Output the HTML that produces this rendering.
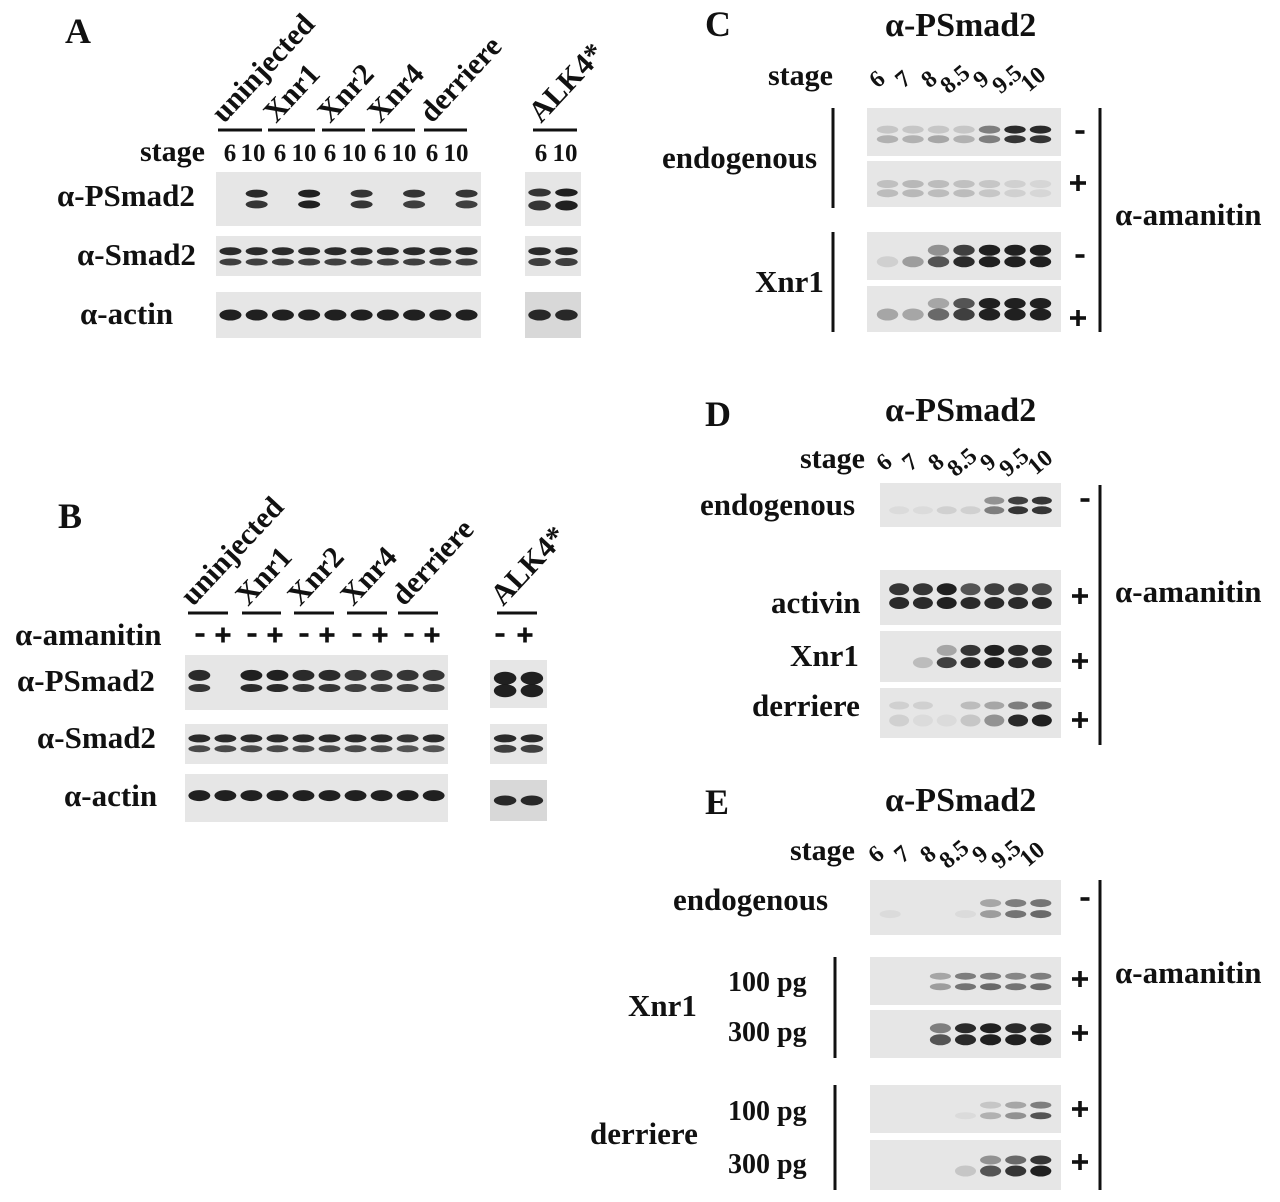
<!DOCTYPE html>
<html><head><meta charset="utf-8"><style>
html,body{margin:0;padding:0;background:#fff}
svg{display:block}
text{font-family:"Liberation Serif",serif;font-weight:bold;fill:#111}
</style></head><body>
<svg id="s" width="1280" height="1202" xmlns="http://www.w3.org/2000/svg"></svg>
<script>
const s=document.getElementById('s');const NS='http://www.w3.org/2000/svg';
function el(t,a,txt){const e=document.createElementNS(NS,t);for(const k in a)e.setAttribute(k,a[k]);if(txt!=null)e.textContent=txt;s.appendChild(e);return e;}
function T(x,y,t,sz,anc,rot){const a={x:x,y:y,'font-size':sz||31};if(anc)a['text-anchor']=anc;if(rot)a.transform='rotate('+rot+' '+x+' '+y+')';return el('text',a,t);}
function L(x1,y1,x2,y2,w){el('line',{x1:x1,y1:y1,x2:x2,y2:y2,stroke:'#111','stroke-width':w||3});}
function P(cx,cy,sz){sz=sz||16;el('rect',{x:cx-sz/2,y:cy-1.8,width:sz,height:3.6,fill:'#111'});el('rect',{x:cx-1.8,y:cy-sz/2,width:3.6,height:sz,fill:'#111'});}
function M(cx,cy,w){w=w||9;el('rect',{x:cx-w/2,y:cy-1.8,width:w,height:3.6,fill:'#111'});}
function B(x,y,w,h,n,rows,pad,bg){el('rect',{x:x,y:y,width:w,height:h,fill:bg||'#e6e6e6'});
 pad=pad==null?0.04:pad;const lw=w*(1-2*pad)/n;
 rows.forEach(r=>{r[1].forEach((v,i)=>{if(v<=0)return;const cx=x+w*pad+lw*(i+0.5);
  el('ellipse',{cx:cx,cy:y+h*r[0],rx:lw*0.42,ry:r[2]||4,fill:'#151515','fill-opacity':v});});});}
// ---- Panel A
T(65,43,'A',36);
const hA=[['uninjected',224],['Xnr1',276],['Xnr2',330],['Xnr4',380],['derriere',432],['ALK4*',541]];
hA.forEach(h=>T(h[1],124,h[0],30,null,-47));
[[218,262],[268,315],[322,365],[372,415],[424,467],[533,577]].forEach(p=>L(p[0],130,p[1],130));
T(140,161,'stage',30);
const nA=[230,253,280,304,330,354,380,404,432,456,541,565];
nA.forEach((x,i)=>T(x,161,i%2?'10':'6',25,'middle'));
T(57,206,'α-PSmad2',31);T(77,265,'α-Smad2',31);T(80,324,'α-actin',31);
B(216,172,265,54,10,[[0.4,[0,.9,0,.95,0,.85,0,.85,0,.85]],[0.6,[0,.85,0,.95,0,.85,0,.8,0,.8]]],0.005);
B(525,172,56,54,2,[[0.38,[.85,.95]],[0.62,[.85,.95],5]],0.02);
B(216,236,265,40,10,[[0.38,[.9,.9,.9,.9,.9,.9,.9,.9,.9,.9]],[0.65,[.8,.8,.8,.8,.8,.8,.8,.8,.8,.8],3.5]],0.005);
B(525,236,56,40,2,[[0.38,[.9,.9]],[0.65,[.8,.8]]],0.02);
B(216,292,265,46,10,[[0.5,[.95,.95,.95,.95,.95,.95,.95,.95,.95,.95],5.5]],0.005);
B(525,292,56,46,2,[[0.5,[.9,.9],5.5]],0.02,'#d8d8d8');
// ---- Panel B
T(58,528,'B',36);
const hB=[['uninjected',193],['Xnr1',248],['Xnr2',300],['Xnr4',353],['derriere',404],['ALK4*',503]];
hB.forEach(h=>T(h[1],607,h[0],30,null,-47));
[[188,228],[242,281],[294,334],[347,387],[398,438],[497,537]].forEach(p=>L(p[0],613,p[1],613));
T(15,645,'α-amanitin',31);
const nB=[200,223,252,275,304,327,357,380,409,432,500,525];
nB.forEach((x,i)=>i%2?P(x,635,15):M(x,635,9));
T(17,691,'α-PSmad2',31);T(37,748,'α-Smad2',31);T(64,806,'α-actin',31);
B(185,655,263,55,10,[[0.37,[.9,0,.95,.95,.9,.9,.85,.85,.85,.85],5.5],[0.6,[.85,0,.9,.9,.85,.85,.8,.8,.8,.8]]],0.005);
B(490,660,57,48,2,[[0.38,[.95,.95],6.5],[0.64,[.95,.95],6.5]],0.03);
B(185,724,263,40,10,[[0.36,[.9,.9,.9,.9,.9,.9,.9,.9,.85,.9]],[0.62,[.75,.75,.75,.75,.75,.75,.75,.75,.7,.7],3.5]],0.005);
B(490,724,57,40,2,[[0.36,[.9,.9]],[0.62,[.8,.8]]],0.03);
B(185,774,263,48,10,[[0.45,[.95,.95,.95,.95,.95,.95,.95,.95,.95,.95],5.5]],0.005);
B(490,780,57,41,2,[[0.5,[.9,.9],5]],0.03,'#d8d8d8');
const st=['6','7','8','8.5','9','9.5','10'];
function stage(x0,y,lx,dx){T(lx,y,'stage',30);st.forEach((t,i)=>T(x0+i*dx,y,t,24,'middle',-40));}
// ---- Panel C
T(705,36,'C',36);T(885,36,'α-PSmad2',34);stage(882,85,768,26);
B(867,108,194,48,7,[[0.45,[.15,.15,.15,.15,.5,.9,.9]],[0.65,[.25,.25,.3,.25,.5,.85,.85]]]);
B(867,161,194,46,7,[[0.5,[.18,.22,.2,.18,.15,.1,.08]],[0.7,[.2,.22,.2,.2,.15,.1,.08]]]);
B(867,232,194,48,7,[[0.38,[0,0,.4,.8,.95,.95,.95],5.5],[0.62,[.1,.35,.7,.9,.95,.95,.95],5.5]]);
B(867,286,194,46,7,[[0.38,[0,0,.3,.7,.95,.95,.95],5.5],[0.62,[.3,.3,.6,.8,.95,.95,.95],6]]);
L(833,108,833,208);L(833,232,833,332);L(1100,108,1100,332);
T(662,168,'endogenous',31);T(755,292,'Xnr1',31);
M(1080,132);P(1078,183);M(1080,256);P(1078,318);
T(1115,225,'α-amanitin',31);
// ---- Panel D
T(705,426,'D',36);T(885,421,'α-PSmad2',34);stage(889,468,800,26);
B(880,483,181,44,7,[[0.4,[0,0,0,0,.4,.8,.85]],[0.62,[.05,.05,.1,.1,.5,.85,.85]]]);
B(880,570,181,55,7,[[0.35,[.85,.85,.95,.7,.8,.8,.75],6],[0.6,[.9,.9,.95,.9,.9,.9,.9],6]]);
B(880,631,181,51,7,[[0.38,[0,0,.3,.85,.95,.9,.9],5.5],[0.62,[0,.2,.8,.9,.95,.9,.9],5.5]]);
B(880,688,181,50,7,[[0.35,[.1,.1,0,.2,.3,.5,.6]],[0.65,[.1,.05,.05,.15,.4,.9,.95],6]]);
L(1100,485,1100,745);
T(700,515,'endogenous',31);T(771,613,'activin',31);T(790,666,'Xnr1',31);T(752,716,'derriere',31);
M(1085,500);P(1080,596);P(1080,661);P(1080,720);
T(1115,602,'α-amanitin',31);
// ---- Panel E
T(705,814,'E',36);T(885,811,'α-PSmad2',34);stage(881,860,790,26);
B(870,880,191,55,7,[[0.42,[0,0,0,0,.3,.5,.55]],[0.62,[.05,0,0,.05,.35,.55,.6]]]);
B(870,957,191,48,7,[[0.4,[0,0,.3,.5,.5,.45,.5],3.5],[0.62,[0,0,.35,.55,.6,.55,.6],3.5]]);
B(870,1010,191,48,7,[[0.38,[0,0,.5,.9,.95,.9,.9],5],[0.62,[0,0,.7,.9,.95,.95,.95],5.5]]);
B(870,1085,191,48,7,[[0.42,[0,0,0,0,.15,.3,.5],3.5],[0.64,[0,0,0,.05,.25,.4,.7],3.5]]);
B(870,1140,191,50,7,[[0.4,[0,0,0,0,.4,.6,.85],4.5],[0.62,[0,0,0,.15,.7,.85,.95],5.5]]);
L(835,957,835,1058);L(835,1085,835,1190);L(1100,880,1100,1190);
T(673,910,'endogenous',31);T(628,1016,'Xnr1',31);T(590,1144,'derriere',31);
T(728,991,'100 pg',28);T(728,1041,'300 pg',28);T(728,1120,'100 pg',28);T(728,1173,'300 pg',28);
M(1085,899);P(1080,979);P(1080,1033);P(1080,1109);P(1080,1162);
T(1115,983,'α-amanitin',31);
</script>
</body></html>
